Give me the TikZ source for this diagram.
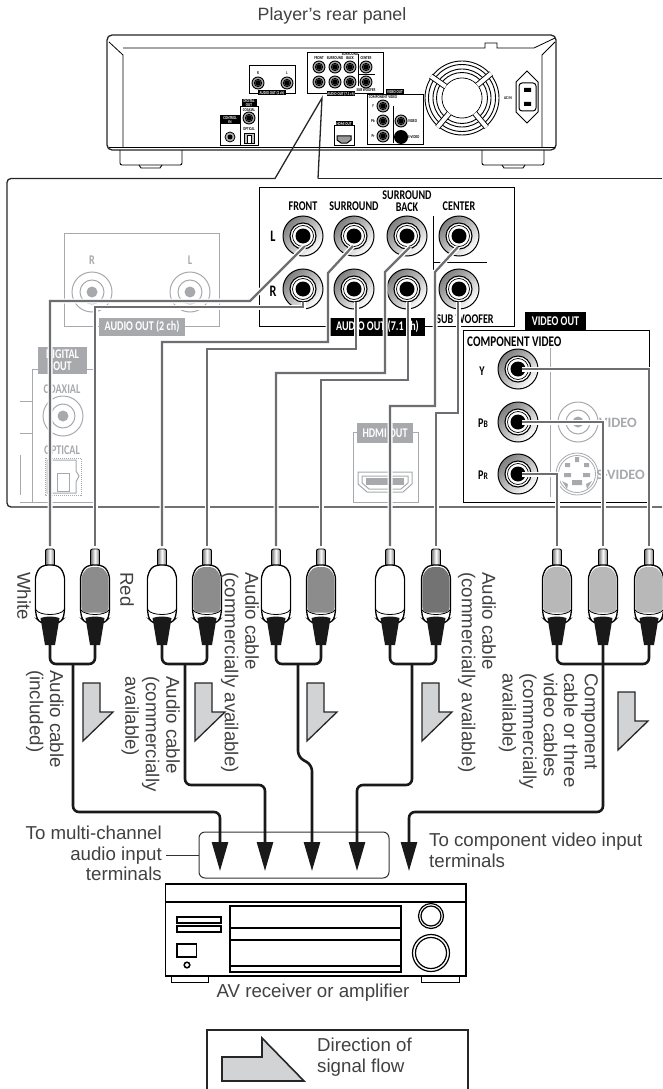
\documentclass[tikz,border=0pt]{standalone}
\usepackage{fontspec}
\usepackage{tikz}
\usetikzlibrary{arrows.meta,calc}
\setmainfont{Liberation Sans}
\newfontfamily\labfont[FakeStretch=0.76]{Carlito}
\newfontfamily\widelabfont{Carlito}
\definecolor{cablegray}{HTML}{6D6E71}
\definecolor{fadegray}{HTML}{A7A9AC}
\definecolor{inkgray}{HTML}{414042}
\definecolor{flowgray}{HTML}{D1D3D4}

\begin{document}
\begin{tikzpicture}[x=1pt,y=-1pt,>={Triangle[length=29pt,width=16pt]}]
    \tikzstyle{txt}=[inner sep=0pt,text=inkgray,font=\fontsize{18.7}{20.5}\selectfont]
    \tikzstyle{side}=[txt,rotate=-90,anchor=north west,align=left]
    \tikzstyle{lab}=[inner sep=0pt,font=\labfont\bfseries\fontsize{13.3}{12}\selectfont,align=center]
    \tikzstyle{widelab}=[lab,font=\widelabfont\bfseries\fontsize{14.3}{12}\selectfont]
    \tikzstyle{tiny}=[inner sep=0pt,font=\labfont\bfseries\fontsize{4.4}{4.4}\selectfont,align=center]
    \tikzstyle{panel}=[draw=black!85,line width=1.3pt]
    \tikzstyle{fade}=[draw=fadegray,line width=1pt]
    \tikzstyle{cable}=[draw=cablegray,line width=2.3pt,preaction={draw=white,line width=5pt}]
    \tikzstyle{lead}=[draw=black!90,line width=2.6pt]
    \tikzstyle{flow}=[draw=black!85,line width=1.3pt,fill=flowgray,line join=miter]
    \useasboundingbox (0,0) rectangle (662,1089);

    % player, small view
    \node[txt,font=\fontsize{17.8}{20}\selectfont] (title) at (332,16) {Player's rear panel};
    \draw[panel,rounded corners=5,fill=white] (107,35) rectangle (556,150);
    \draw[line width=.8pt] (109,42) -- (123,55) -- (123,147);
    \draw[line width=.8pt] (109,147) -- (555,147);
    \draw[line width=.8pt] (123,48) -- (485,48) -- (485,43) -- (497,43) -- (497,48) -- (534,48) -- (555,38);
    \draw[line width=.8pt] (555,42) -- (542,55) -- (542,147);
    \draw[line width=.9pt,rounded corners=2] (120,150) -- (120,165) -- (182,165) -- (182,150);
    \draw[line width=.9pt,rounded corners=2] (482,150) -- (482,165) -- (544,165) -- (544,150);
    \draw[line width=.9pt] (139,165) -- (141,168) -- (160,168) -- (162,165);
    \draw[line width=.9pt] (502,165) -- (504,168) -- (523,168) -- (525,165);

    \draw[line width=.8pt] (249,65) rectangle (295,93);
    \draw[line width=.8pt] (307,52) rectangle (383,93);
    \draw[line width=.8pt] (367,94) rectangle (423,144);
    \draw[line width=.8pt] (240,106) rectangle (258,145);
    \draw[line width=.8pt] (220,115) rectangle (240,145);
    \draw[line width=.8pt] (334,125) rectangle (354,145);
    \draw[line width=.7pt] (358,54) -- (358,86) (358,74) -- (375,74);
    \draw[line width=.7pt] (393,106) -- (393,143);
    \foreach \x/\y in {258/83,287/83,319/67,335/67,350/67,366/67,319/82,335/82,350/82,366/82,383/106,383/121,383/136,401/121,249/118}
      \path[draw=black,line width=.9pt,fill=black!35] (\x,\y) circle[radius=6] (\x,\y) circle[radius=3.6];
    \foreach \x/\y in {258/83,287/83,319/67,335/67,350/67,366/67,319/82,335/82,350/82,366/82,383/106,383/121,383/136,401/121,249/118}
      \fill[black] (\x,\y) circle[radius=2.8];
    \fill[black] (401,137) circle[radius=7];
    \path[draw=black,line width=.8pt,fill=black!30] (230,137) circle[radius=5];
    \fill[black] (230,137) circle[radius=2.5];
    \draw[line width=.8pt,fill=black!25] (244,133) rectangle (254,143);
    \draw[line width=.7pt,fill=white] (247,135) rectangle (251,143);
    \draw[line width=1pt,fill=black!40] (337,136) -- (351,136) -- (351,140) -- (347,143) -- (341,143) -- (337,140) -- cycle;

    \node[tiny,fill=black,text=white,minimum width=28pt,minimum height=5pt] (smallTwo) at (272,93) {AUDIO OUT (2 ch)};
    \node[tiny,fill=black,text=white,minimum width=28pt,minimum height=5pt] (smallSeven) at (341,94) {AUDIO OUT (7.1 ch)};
    \node[tiny,fill=black,text=white,minimum width=18pt,minimum height=5pt] (smallVideo) at (395,92) {VIDEO OUT};
    \node[tiny,fill=black,text=white,minimum width=17pt,minimum height=5pt] (smallHdmi) at (344,124) {HDMI OUT};
    \node[tiny,fill=black,text=white,minimum width=20pt,minimum height=9pt] (smallControl) at (230,120) {CONTROL\\IN};
    \node[tiny,fill=black,text=white,minimum width=15pt,minimum height=8pt] (smallDigital) at (249,103) {DIGITAL\\OUT};
    \node[tiny] (smallR) at (258,73) {R};
    \node[tiny] (smallL) at (287,73) {L};
    \node[tiny] (smallFront) at (319,58) {FRONT};
    \node[tiny] (smallSur) at (335,58) {SURROUND};
    \node[tiny] (smallBack) at (350,56) {SURROUND\\BACK};
    \node[tiny] (smallCenter) at (366,58) {CENTER};
    \node[tiny] (smallSub) at (366,90) {SUB WOOFER};
    \node[tiny] (smallComp) at (383,97) {COMPONENT VIDEO};
    \node[tiny] (smallY) at (373,106) {Y};
    \node[tiny] (smallPb) at (373,121) {Pb};
    \node[tiny] (smallPr) at (373,136) {Pr};
    \node[tiny,anchor=west] (smallVid) at (408,121) {VIDEO};
    \node[tiny,anchor=west] (smallSvid) at (408,137) {S-VIDEO};
    \node[tiny] (smallCoax) at (249,110) {COAXIAL};
    \node[tiny] (smallOpt) at (249,129) {OPTICAL};
    \node[tiny] (smallAc) at (508,98) {AC IN};

    % fan and power inlet
    \foreach \r in {37,33.5,29,25.5,20}
      \draw[line width=.9pt] (462,98) circle[radius=\r];
    \foreach \t in {50,130,215,320}
      \draw[line width=.9pt,double=white,double distance=4pt] (462,98) ++(\t:20) -- ++(\t:18);
    \fill[white] (462,98) circle[radius=19.5];
    \draw[line width=1pt] (527,71) -- (538,82) -- (538,112) -- (527,123) -- (516,112) -- (516,82) -- cycle;
    \draw[line width=1pt,fill=white,rounded corners=3] (519,83) rectangle (536,111);
    \fill[black] (524,88) rectangle (531,92) (524,102) rectangle (531,106);

    % main panel
    \coordinate (zoomTip) at (322,98);
    \coordinate (topL) at (275,178.5);
    \coordinate (topR) at (318,178.5);
    \draw[panel,rounded corners=4] (topL) -- (7,178.5) -- (7,507) -- (662,507);
    \draw[panel] (topR) -- (662,178.5);
    \draw[panel] (topL) -- (zoomTip) -- (topR);

    % faded parts
    \draw[fade] (64,233) rectangle (219,326);
    \node[lab,text=fadegray] (fadeR) at (92,260) {R};
    \node[lab,text=fadegray] (fadeL) at (190,260) {L};
    \node[lab,fill=fadegray,text=white,minimum width=86pt,minimum height=18pt] (twoCh) at (142,327) {AUDIO OUT (2 ch)};
    \draw[fade] (32,502) -- (32,369) -- (93,369);
    \draw[fade] (20,401) -- (32,401) (20,433) -- (32,433) (20,455) -- (20,495) (20,502) -- (93,502);
    \node[lab,fill=fadegray,text=white,minimum width=49pt,minimum height=27pt] (digital) at (62.5,360.5) {DIGITAL\\OUT};
    \node[lab,text=fadegray] (coax) at (62,389) {COAXIAL};
    \node[lab,text=fadegray] (opt) at (62,450) {OPTICAL};
    \draw[fade,densely dotted,line width=.8pt] (45,458) rectangle (81,495);
    \draw[fade] (57,473) rectangle (69,491);
    \draw[fade] (47,460) -- (76,460) -- (76,471) -- (79,476) -- (76,482) -- (76,493) -- (47,493) -- cycle;
    \foreach \x/\y in {92/292,190/292,63/416,578/422} {
      \draw[fade] (\x,\y) circle[radius=20] (\x,\y) circle[radius=12];
      \fill[fadegray] (\x,\y) circle[radius=5.5];
    }
    \draw[fade] (353,502) -- (353,432) -- (418,432) -- (418,502) -- cycle;
    \node[lab,fill=fadegray,text=white,minimum width=56pt,minimum height=20pt] (hdmi) at (385,433) {HDMI OUT};
    \draw[fade] (358,472) -- (412,472) -- (412,484) -- (403,492) -- (367,492) -- (358,484) -- cycle;
    \draw[fade] (362,476) -- (408,476) -- (408,483) -- (401,489) -- (369,489) -- (362,483) -- cycle;
    \fill[fadegray] (366,478) rectangle (404,485);
    \draw[fade,line width=.8pt] (577,474) circle[radius=21] (577,474) circle[radius=18.5];
    \fill[fadegray] (575,457) rectangle (579,462) (565,463) rectangle (570,467) (584,463) rectangle (589,467)
      (564,473) rectangle (571,477) (583,473) rectangle (590,477) (572,480) rectangle (582,485)
      (562,481) -- (568,484) -- (567,489) -- cycle (592,481) -- (586,484) -- (587,489) -- cycle;
    \node[widelab,text=fadegray,anchor=east] (vidLab) at (637,423) {VIDEO};
    \node[widelab,text=fadegray,anchor=east] (svidLab) at (645,475) {S-VIDEO};
    \draw[fade] (550,348) -- (550,497);

    % multi channel block
    \draw[line width=1pt] (330,326) -- (259,326) -- (259,187) -- (514,187) -- (514,326) -- (425,326);
    \draw[line width=1pt] (433,216) -- (433,270) (433,262) -- (487,262);
    \node[lab] (front) at (303,206) {FRONT};
    \node[lab] (surround) at (354,206) {SURROUND};
    \node[lab] (back) at (407,201) {SURROUND\\BACK};
    \node[lab] (center) at (459,206) {CENTER};
    \node[lab,font=\labfont\bfseries\fontsize{16}{14}\selectfont] (rowL) at (273,236) {L};
    \node[lab,font=\labfont\bfseries\fontsize{16}{14}\selectfont] (rowR) at (273,291) {R};
    \node[lab,fill=white,inner xsep=2pt] (sub) at (465,319) {SUB WOOFER};
    \node[lab,fill=black,text=white,minimum width=95pt,minimum height=18pt] (sevenCh) at (377.5,327) {AUDIO OUT (7.1 ch)};

    % video block
    \draw[line width=1pt] (649,367) -- (649,330) -- (463,330) -- (463,502) -- (647,502);
    \node[lab,fill=black,text=white,minimum width=61pt,minimum height=18pt] (videoOut) at (555.5,321) {VIDEO OUT};
    \node[lab,anchor=west,font=\labfont\bfseries\fontsize{14.7}{12}\selectfont] (comp) at (467,342) {COMPONENT VIDEO};
    \node[lab] (rowY) at (482,371) {Y};
    \node[lab] (rowPb) at (483,423) {P\fontsize{10}{10}\selectfont B};
    \node[lab] (rowPr) at (483,475) {P\fontsize{10}{10}\selectfont R};

    \foreach \name/\x/\y in {frontL/303/236,frontR/303/289,surL/354/236,surR/354/289,backL/407/236,backR/407/289,
                             centerJ/459/236,subJ/459/289,compY/518/369,compB/518/422,compR/518/474} {
      \coordinate (\name) at (\x,\y);
      \path[draw=black,line width=1pt,shading=axis,top color=black!50,bottom color=white,shading angle=45] (\name) circle[radius=20];
      \path[draw=black,line width=1.1pt,fill=white] (\name) circle[radius=13];
      \draw[line width=.7pt] (\name) circle[radius=10.5];
      \fill[black] (\name) circle[radius=7.5];
    }

    % plugs
    \foreach \name/\x/\body in {plugA/50/white,plugB/95/black!45,plugC/162/white,plugD/207/black!45,plugE/276/white,plugF/321/black!45,
                                plugG/390/white,plugH/436/black!55,plugI/557/black!28,plugJ/603/black!28,plugK/649/black!28} {
      \coordinate (\name) at (\x,546);
      \coordinate (\name-end) at (\x,645);
      \begin{scope}[shift={(\x,546)}]
        \path[draw=black,line width=.9pt,rounded corners=2,left color=black!55,right color=black!55,middle color=white]
          (-4.5,20) -- (-4.5,3) -- (4.5,3) -- (4.5,20) -- cycle;
        \path[draw=black,line width=1.3pt,fill=white,rounded corners=3]
          (-5,19) -- (-11,22) -- (-14.5,30) -- (-14.5,65) -- (-13,73) -- (-9,77) -- (9,77) -- (13,73) -- (14.5,65) -- (14.5,30) -- (11,22) -- (5,19) -- cycle;
        \fill[\body,rounded corners=2] (-5,21) -- (5,21) -- (10,24) -- (13.6,31) -- (13.6,63) -- (11,66.5) -- (-11,66.5) -- (-13.6,63) -- (-13.6,31) -- (-10,24) -- cycle;
        \draw[line width=.8pt] (-14,64) .. controls (-10,70) and (10,70) .. (14,64);
        \fill[black!90] (-9.5,72) .. controls (-4,70) and (4,70) .. (9.5,72) -- (5,99) -- (-5,99) -- cycle;
      \end{scope}
    }

    % cables to the jacks
    \draw[cable] ($(frontL)+(1,11)$) -- (250,301) -- (50,301) -- (plugA);
    \draw[cable] ($(frontR)+(0,13)$) -- (303,307) -- (95,307) -- (plugB);
    \draw[cable] ($(surL)+(-1,10)$) -- (328,273) -- (328,342) -- (162,342) -- (plugC);
    \draw[cable] ($(surR)+(2,13)$) -- (356,349) -- (207,349) -- (plugD);
    \draw[cable] ($(backL)+(3,11)$) -- (385,272) -- (385,373) -- (276,373) -- (plugE);
    \draw[cable] ($(backR)+(1,13)$) -- (408,380) -- (321,380) -- (plugF);
    \draw[cable] ($(centerJ)+(-1,11)$) -- (435,272) -- (435,406) -- (390,406) -- (plugG);
    \draw[cable] ($(subJ)+(-1,13)$) -- (458,413) -- (436,413) -- (plugH);
    \draw[cable] ($(compY)+(4,0)$) -- (649,369) -- (plugK);
    \draw[cable] ($(compB)+(4,0)$) -- (603,422) -- (plugJ);
    \draw[cable] ($(compR)+(4,0)$) -- (557,474) -- (plugI);

    % cables to the receiver
    \coordinate (tipA) at (220,871);
    \coordinate (tipB) at (265,871);
    \coordinate (tipC) at (312,871);
    \coordinate (tipD) at (357,871);
    \coordinate (tipE) at (409,871);
    \coordinate (joinA) at (73,664);
    \coordinate (joinB) at (185,664);
    \coordinate (joinC) at (298,664);
    \coordinate (joinD) at (412,664);
    \coordinate (joinE) at (603,664);
    \draw[draw=black!80,line width=1pt,rounded corners=6,fill=white] (199,832) rectangle (389,878);
    \draw[lead,rounded corners=6] (plugA-end) -- (50,664) -- (95,664) -- (plugB-end);
    \draw[lead,rounded corners=6] (plugC-end) -- (162,664) -- (207,664) -- (plugD-end);
    \draw[lead,rounded corners=6] (plugE-end) -- (276,664) -- (321,664) -- (plugF-end);
    \draw[lead,rounded corners=6] (plugG-end) -- (390,664) -- (436,664) -- (plugH-end);
    \draw[lead,rounded corners=6] (plugI-end) -- (557,664) -- (649,664) -- (plugK-end);
    \draw[lead,->,rounded corners=6] (joinA) -- (73,812) -- (220,812) -- (tipA);
    \draw[lead,->,rounded corners=6] (joinB) -- (185,785) -- (265,785) -- (tipB);
    \draw[lead,->,rounded corners=6] (joinC) -- (298,757) -- (312,765) -- (tipC);
    \draw[lead,->,rounded corners=6] (joinD) -- (412,785) -- (357,785) -- (tipD);
    \draw[lead,->,rounded corners=6] (plugJ-end) -- (joinE) -- (603,812) -- (409,812) -- (tipE);

    % flow arrows
    \foreach \x/\y in {83/683,195/683,307/683,422/683,618/692}
      \draw[flow] (\x,\y) -- ++(17,0) -- ++(0,29) -- ++(13,0) -- ++(-30,29) -- cycle;

    % cable names
    \node[side] (white) at (31,572) {White};
    \node[side] (red) at (134,572) {Red};
    \node[side] (cableA) at (64,670) {Audio cable\\(included)};
    \node[side] (cableB) at (180,676) {Audio cable\\(commercially\\available)};
    \node[side] (cableC) at (259,572) {Audio cable\\(commercially available)};
    \node[side] (cableD) at (496,572) {Audio cable\\(commercially available)};
    \node[side] (cableE) at (598,673) {Component\\cable or three\\video cables\\(commercially\\available)};

    % receiver
    \node[txt,align=right,anchor=north east] (multi) at (162,826) {To multi-channel\\audio input\\terminals};
    \coordinate (leadStart) at (166,855);
    \coordinate (boxLeft) at (199,855);
    \draw[draw=black!80,line width=1pt] (leadStart) -- (boxLeft);
    \node[txt,align=left,anchor=north west] (toVideo) at (429,833) {To component video input\\terminals};
    \draw[line width=1.5pt] (165.5,884) rectangle (466,976);
    \draw[line width=1.5pt] (165.5,902) -- (466,902);
    \draw[line width=1.2pt] (230,906) rectangle (401,972);
    \draw[line width=1.5pt] (230,928) -- (401,928);
    \draw[line width=1.2pt] (230,940) -- (401,940) (230,966) -- (401,966);
    \draw[line width=1.1pt] (177,917) rectangle (221,923) (177,926) rectangle (221,932);
    \draw[line width=1.2pt] (177,944) rectangle (196.5,957);
    \draw[line width=1.5pt] (187,965) circle[radius=2.8];
    \draw[line width=1.2pt] (431,916) circle[radius=12.5] (431,916) circle[radius=10];
    \draw[line width=1.2pt] (431,953) circle[radius=18.5] (431,953) circle[radius=15.5];
    \draw[line width=.9pt] (171,976) -- (171,982) -- (208,982) -- (208,976);
    \draw[line width=.9pt] (421,976) -- (421,982) -- (459,982) -- (459,976);
    \node[txt] (receiver) at (313,993) {AV receiver or amplifier};

    % legend
    \draw[panel] (207,1089) -- (207,1030) -- (468,1030) -- (468,1089);
    \draw[flow,line width=1.6pt] (222,1057) -- (262,1057) -- (262,1038) -- (304,1081) -- (222,1081) -- cycle;
    \node[txt,align=left,anchor=north west] (legend) at (317,1038) {Direction of\\signal flow};
\end{tikzpicture}
\end{document}
